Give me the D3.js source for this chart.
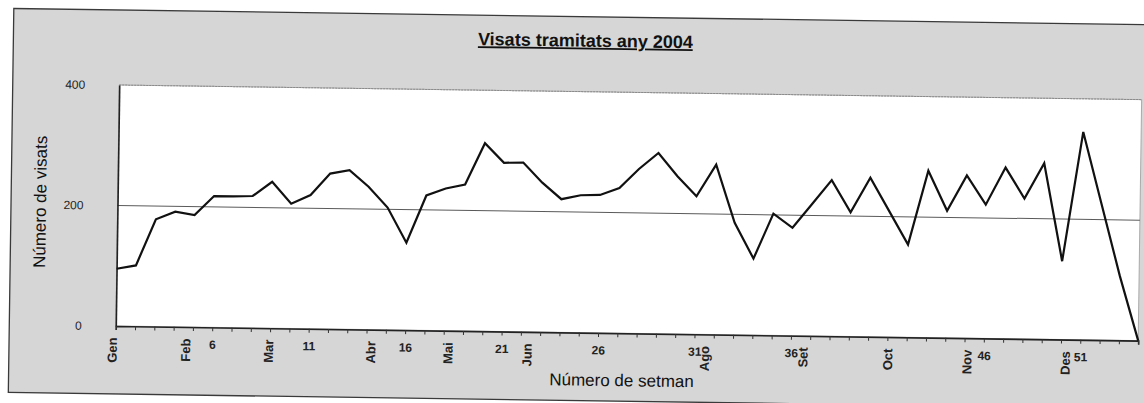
<!DOCTYPE html>
<html>
<head>
<meta charset="UTF-8">
<title>Visats tramitats any 2004</title>
<style>
  body { margin: 0; background: #ffffff; }
  svg { display: block; font-family: "Liberation Sans", Arial, sans-serif; }
</style>
</head>
<body>
<svg></svg>
<script src="https://d3js.org/d3.v7.min.js"></script>
<script>

// visats per setmana (weeks 1..54)
let visats = [95, 101, 178, 191, 186, 218, 218, 219, 243, 207,
              222, 258, 264, 237, 203, 145, 224, 236, 243, 312,
              280, 281, 248, 221, 228, 229, 241, 273, 300, 262,
              229, 282, 186, 127, 202, 179, 219, 259, 206, 264,
              209, 154, 277, 211, 270, 222, 284, 233, 292, 130,
              345, 226, 107, 0];
let weeks = visats.map((d, i) => i + 1);

let yTicks = [0, 200, 400];
let weekLabels = [6, 11, 16, 21, 26, 31, 36, 46, 51];
let monthNames = ["Gen", "Feb", "Mar", "Abr", "Mai", "Jun", "Ago", "Set", "Oct", "Nov", "Des"];
let monthWeeks = [0.8, 4.6, 8.9, 14.2, 18.2, 22.3, 31.5, 36.6, 41, 45.1, 50.2];

let width = 1144, height = 403;
let plotL = 117.5, plotR = 1140, plotT = 85, plotB = 326;

let svg = d3.select("svg")
    .attr("width", width)
    .attr("height", height);

// the scan is slightly tilted
let g = svg.append("g").attr("transform", "rotate(0.82,118,206)");

let x = d3.scaleLinear().domain([1, visats.length]).range([plotL, plotR]);
let y = d3.scaleLinear().domain([0, 400]).range([plotB, plotT]);

// grey chart area
g.append("rect")
    .attr("x", 11).attr("y", 10)
    .attr("width", 1160).attr("height", 384)
    .attr("fill", "#d6d6d6")
    .attr("stroke", "#3a3a3a")
    .attr("stroke-width", 1.3);

// white plot area
g.append("rect")
    .attr("x", plotL).attr("y", plotT)
    .attr("width", plotR - plotL).attr("height", plotB - plotT)
    .attr("fill", "#ffffff")
    .attr("stroke", "#9a9a9a")
    .attr("stroke-width", 0.8);

// gridlines
g.append("g")
    .selectAll("line")
    .data(yTicks.filter(d => d > 0))
    .enter()
    .append("line")
        .attr("x1", plotL).attr("x2", plotR)
        .attr("y1", d => y(d)).attr("y2", d => y(d))
        .attr("stroke", d => d === 400 ? "#8a8a8a" : "#5a5a5a")
        .attr("stroke-dasharray", d => d === 400 ? "2,1" : null)
        .attr("stroke-width", 1);

// y axis
let yAxis = g.append("g")
    .attr("transform", `translate(${plotL},0)`)
    .call(d3.axisLeft(y).tickValues(yTicks).tickSize(0).tickPadding(34));
yAxis.select(".domain").attr("stroke", "#222").attr("stroke-width", 1.6);
yAxis.selectAll("text")
    .attr("font-size", "12px")
    .attr("font-family", "Liberation Sans, Arial, sans-serif")
    .attr("fill", "#222");

// x axis: one tick per week
let xAxis = g.append("g")
    .attr("transform", `translate(0,${plotB})`)
    .call(d3.axisBottom(x).tickValues(weeks).tickSize(4).tickFormat(""));
xAxis.select(".domain").attr("stroke", "#222").attr("stroke-width", 1.6);
xAxis.selectAll(".tick line").attr("stroke", "#333");

// week numbers
let numAxis = g.append("g")
    .attr("transform", `translate(0,${plotB})`)
    .call(d3.axisBottom(x).tickValues(weekLabels).tickSize(0).tickPadding(13));
numAxis.select(".domain").remove();
numAxis.selectAll("text")
    .attr("font-size", "12px")
    .attr("font-weight", "bold")
    .attr("font-family", "Liberation Sans, Arial, sans-serif")
    .attr("fill", "#222");

// month names, vertical
let monthAxis = g.append("g")
    .attr("transform", `translate(0,${plotB})`)
    .call(d3.axisBottom(x).tickValues(monthWeeks).tickSize(0)
        .tickFormat((d, i) => monthNames[i]));
monthAxis.select(".domain").remove();
monthAxis.selectAll("text")
    .attr("transform", "rotate(-90)")
    .attr("text-anchor", "end")
    .attr("x", -11.5)
    .attr("y", 0)
    .attr("dy", "0.36em")
    .attr("font-size", "13px")
    .attr("font-weight", "bold")
    .attr("font-family", "Liberation Sans, Arial, sans-serif")
    .attr("fill", "#222");

// the line
let line = d3.line()
    .x((d, i) => x(weeks[i]))
    .y(d => y(d));

g.append("path")
    .datum(visats)
    .attr("d", line)
    .attr("fill", "none")
    .attr("stroke", "#111")
    .attr("stroke-width", 2.2)
    .attr("stroke-linejoin", "miter");

// titles
g.append("text")
    .attr("x", 583).attr("y", 40)
    .attr("text-anchor", "middle")
    .attr("font-size", "18px")
    .attr("font-weight", "bold")
    .attr("text-decoration", "underline")
    .attr("fill", "#111")
    .text("Visats tramitats any 2004");

g.append("text")
    .attr("x", 624).attr("y", 379)
    .attr("text-anchor", "middle")
    .attr("font-size", "17px")
    .attr("fill", "#111")
    .text("Número de setman");

g.append("text")
    .attr("transform", "translate(46,203) rotate(-90)")
    .attr("text-anchor", "middle")
    .attr("font-size", "17px")
    .attr("fill", "#111")
    .text("Número de visats");

</script>
</body>
</html>
